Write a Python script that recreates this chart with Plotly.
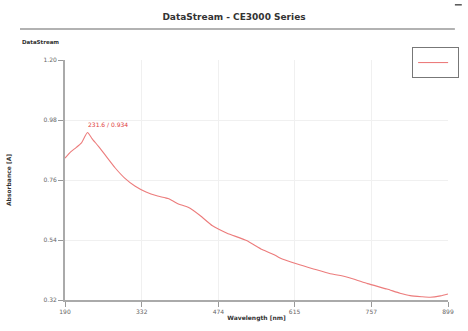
import plotly.graph_objects as go

wavelength = [190, 200, 210, 220, 231.6, 240, 252, 265, 283, 300, 320, 340, 360, 375, 381, 388,
              400, 418, 440, 463, 490, 526, 555, 575, 580, 588, 620, 650, 681, 700, 724, 750,
              786, 810, 829, 850, 866, 885, 899]
absorbance = [0.84, 0.862, 0.878, 0.895, 0.934, 0.912, 0.883, 0.85, 0.804, 0.768, 0.737, 0.716,
              0.702, 0.695, 0.692, 0.685, 0.672, 0.66, 0.63, 0.592, 0.565, 0.538, 0.505, 0.488,
              0.483, 0.474, 0.452, 0.434, 0.416, 0.41, 0.397, 0.38, 0.36, 0.345, 0.336, 0.332,
              0.33, 0.335, 0.342]
x_ticks = [190, 332, 474, 615, 757, 899]
y_ticks = [0.32, 0.54, 0.76, 0.98, 1.20]
y_tick_text = ["0.32", "0.54", "0.76", "0.98", "1.20"]
peak_wl = 231.6
peak_abs = 0.934

line_color = "#ec7c7c"

fig = go.Figure()
fig.add_trace(go.Scatter(x=wavelength, y=absorbance, mode="lines", name="",
                         line=dict(color=line_color, width=1.1, shape="spline", smoothing=0.5),
                         showlegend=True, hoverinfo="skip"))

fig.add_annotation(x=peak_wl, y=peak_abs, text=f"{peak_wl} / {peak_abs}", showarrow=False,
                   xanchor="left", yanchor="bottom", yshift=3, xshift=-1,
                   font=dict(size=6, color="#e04040", family="DejaVu Sans"))

fig.add_annotation(xref="paper", yref="paper", x=-0.1175, y=1.075, text="<b>DataStream</b>",
                   showarrow=False, xanchor="left", yanchor="middle",
                   font=dict(size=5.5, color="#333333", family="DejaVu Sans"))

fig.add_shape(type="line", xref="paper", yref="paper", x0=-0.1175, x1=1.018, y0=1.129, y1=1.129,
              line=dict(color="#999999", width=1.5))
fig.add_shape(type="line", xref="paper", yref="paper", x0=1.018, x1=1.036, y0=1.23, y1=1.23,
              line=dict(color="#555555", width=1.5))

axis_common = dict(showline=True, linecolor="#aaaaaa", linewidth=2, ticks="outside",
                   ticklen=5, tickcolor="#999999", tickwidth=1, showgrid=True,
                   gridcolor="#f0f0f0", gridwidth=1, zeroline=False, automargin=False,
                   tickfont=dict(size=6, color="#666666", family="DejaVu Sans"))

fig.update_xaxes(range=[190, 899], tickvals=x_ticks, ticktext=[str(v) for v in x_ticks],
                 title=dict(text="<b>Wavelength [nm]</b>", standoff=2,
                            font=dict(size=6, color="#333333", family="DejaVu Sans")),
                 **axis_common)
fig.update_yaxes(range=[0.32, 1.20], tickvals=y_ticks, ticktext=y_tick_text,
                 title=dict(text="<b>Absorbance [A]</b>", standoff=31,
                            font=dict(size=6, color="#333333", family="DejaVu Sans")),
                 **axis_common)

fig.update_layout(
    width=468, height=331, autosize=False,
    margin=dict(l=65, r=20, t=60, b=31, autoexpand=False),
    paper_bgcolor="white", plot_bgcolor="white",
    title=dict(text="<b>DataStream - CE3000 Series</b>", x=0.5, xanchor="center",
               y=0.95, yanchor="middle", automargin=False,
               font=dict(size=9, color="#333333", family="DejaVu Sans")),
    legend=dict(x=1.029, y=1.054, xanchor="right", yanchor="top", bordercolor="#777777",
                borderwidth=1, bgcolor="white", itemwidth=30, tracegroupgap=0,
                font=dict(size=3, family="DejaVu Sans")),
    showlegend=True,
    hovermode=False,
)

fig.write_html("out.html", post_script="document.body.style.margin='0';",
               config={"displayModeBar": False})
